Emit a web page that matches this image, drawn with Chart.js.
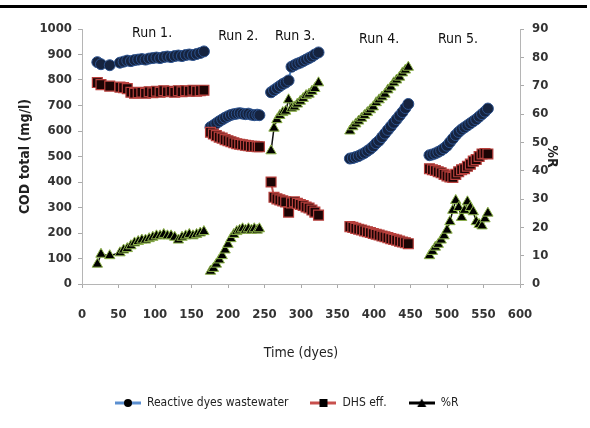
<!DOCTYPE html>
<html>
<head>
<meta charset="utf-8">
<script src="https://cdn.jsdelivr.net/npm/chart.js@4.4.1/dist/chart.umd.min.js"></script>
<style>
html,body{margin:0;padding:0;background:#fff;}
#wrap{position:relative;width:590px;height:428px;overflow:hidden;}
#c{position:absolute;left:0;top:0;}
#topline{position:absolute;left:0;top:5px;width:587px;height:3px;background:#000;}
</style>
</head>
<body>
<div id="wrap"><canvas id="c" width="590" height="428"></canvas><div id="topline"></div></div>
<script>
// ---------- DATA ----------
const seriesNames = ['Reactive dyes wastewater', 'DHS eff.', '%R'];
const runLabels = ['Run 1.', 'Run 2.', 'Run 3.', 'Run 4.', 'Run 5.'];
const runLabelDays = [96, 214, 292, 407, 515];
const runLabelCOD = [982, 970, 970, 958, 958];

const run1Days = [21, 26, 38, 52, 57, 62, 67, 72, 77, 82, 87, 92, 97, 102, 107, 112, 117, 122, 127, 132, 137, 142, 147, 152, 157, 162, 167];
const run1Reactive = [870, 862, 858, 868, 872, 876, 874, 878, 880, 882, 880, 884, 886, 888, 886, 890, 892, 890, 894, 896, 894, 898, 900, 898, 902, 906, 912];
const run1DHS = [790, 782, 776, 772, 770, 766, 752, 748, 750, 752, 748, 754, 750, 756, 752, 758, 754, 756, 752, 758, 754, 758, 756, 760, 756, 758, 760];
const run1R = [7, 10.5, 10, 11, 12, 12.5, 13.5, 14.5, 15, 15.5, 15.5, 16, 16.5, 17, 17, 17.5, 17, 17, 16.5, 15.5, 16.5, 17, 17.5, 17, 17.5, 18, 18.5];

const run2Days = [176, 180, 184, 188, 192, 196, 200, 204, 208, 212, 216, 220, 224, 228, 232, 236, 240, 243];
const run2Reactive = [615, 622, 630, 638, 645, 652, 658, 663, 666, 668, 670, 668, 666, 668, 664, 662, 664, 662];
const run2DHS = [595, 588, 582, 576, 572, 566, 562, 558, 554, 550, 548, 546, 544, 542, 540, 540, 538, 538];
const run2R = [4.5, 5.5, 7, 8.5, 10, 12, 14, 16, 17.5, 18.5, 19, 19.5, 19, 19.5, 19, 19.5, 19, 19.5];

const run3Days = [259, 263, 267, 271, 275, 279, 283, 287, 291, 295, 299, 303, 307, 311, 315, 319, 324];
const run3Reactive = [752, 760, 768, 776, 784, 790, 798, 852, 858, 864, 868, 874, 880, 886, 892, 900, 908];
const run3DHS = [400, 340, 334, 330, 326, 322, 282, 318, 322, 316, 312, 308, 302, 298, 290, 282, 270];
const run3R = [47, 55, 58, 59.5, 60.5, 61, 65, 62, 62.5, 63.5, 64.5, 65.5, 66.5, 67, 68, 69, 71];

const run4Days = [367, 371, 375, 379, 383, 387, 391, 395, 399, 403, 407, 411, 415, 419, 423, 427, 431, 435, 439, 443, 447];
const run4Reactive = [492, 494, 498, 502, 508, 514, 522, 530, 540, 552, 562, 576, 590, 604, 618, 632, 646, 660, 674, 690, 706];
const run4DHS = [225, 222, 218, 215, 212, 208, 205, 202, 198, 195, 192, 188, 185, 182, 178, 175, 172, 168, 165, 162, 158];
const run4R = [54, 55.5, 56.5, 57.5, 58.5, 59.5, 60.5, 61.5, 62.5, 64, 65, 66, 67, 68.5, 69.5, 71, 72, 73, 74.5, 75.5, 76.5];

const run5Days = [476, 480, 484, 488, 492, 496, 500, 504, 508, 512, 516, 520, 524, 528, 532, 536, 540, 544, 548, 552, 556];
const run5Reactive = [505, 508, 512, 518, 524, 532, 542, 556, 570, 584, 596, 606, 614, 622, 630, 638, 646, 656, 666, 676, 688];
const run5DHS = [452, 448, 445, 440, 436, 430, 424, 420, 418, 430, 440, 448, 452, 462, 470, 482, 488, 500, 510, 512, 510];
const run5R = [10, 11.5, 13, 14, 15.5, 17, 19, 22, 26, 29.5, 27, 23.5, 26, 29, 27, 25.5, 22, 21, 20.5, 23, 25];

const xTicks = {min: 0, max: 600, step: 50};
const codTicks = {min: 0, max: 1000, step: 100};
const rTicks = {min: 0, max: 90, step: 10};

// ---------- build point lists (null between runs = gaps) ----------
const allDays = [run1Days, run2Days, run3Days, run4Days, run5Days];
function joinRuns(valueRuns) {
  const out = [];
  valueRuns.forEach((vals, r) => {
    if (r > 0) out.push({x: allDays[r][0] - 1, y: null});
    vals.forEach((v, i) => out.push({x: allDays[r][i], y: v}));
  });
  return out;
}
const reactivePts = joinRuns([run1Reactive, run2Reactive, run3Reactive, run4Reactive, run5Reactive]);
const dhsPts = joinRuns([run1DHS, run2DHS, run3DHS, run4DHS, run5DHS]);
const rPts = joinRuns([run1R, run2R, run3R, run4R, run5R]);

const FONT = "'Liberation Sans Narrow', 'DejaVu Sans Condensed', 'Liberation Sans', sans-serif";

// legend icons (line + marker)
function makeIcon(lineColor, marker) {
  const c = document.createElement('canvas');
  c.width = 26; c.height = 12;
  const g = c.getContext('2d');
  g.strokeStyle = lineColor; g.lineWidth = 3;
  g.beginPath(); g.moveTo(0, 6); g.lineTo(26, 6); g.stroke();
  g.fillStyle = '#000';
  g.beginPath();
  if (marker === 'circle') { g.arc(13, 6, 4, 0, Math.PI * 2); }
  else if (marker === 'rect') { g.rect(9, 2, 8, 8); }
  else { g.moveTo(13, 1.5); g.lineTo(17.5, 10); g.lineTo(8.5, 10); g.closePath(); }
  g.fill();
  return c;
}
const icons = [makeIcon('#5b8fd0', 'circle'), makeIcon('#c8504d', 'rect'), makeIcon('#000', 'triangle')];

const runLabelPlugin = {
  id: 'runLabels',
  afterDatasetsDraw(chart) {
    const {ctx} = chart;
    const xs = chart.scales.x, ys = chart.scales.y;
    ctx.save();
    ctx.font = '14px ' + FONT;
    ctx.fillStyle = '#111';
    ctx.textAlign = 'center';
    ctx.textBaseline = 'middle';
    runLabels.forEach((t, i) => {
      ctx.fillText(t, xs.getPixelForValue(runLabelDays[i]), ys.getPixelForValue(runLabelCOD[i]));
    });
    ctx.restore();
  }
};
const legendPos = {
  id: 'legendPos',
  beforeDraw(chart) {
    const lg = chart.legend;
    if (!lg) return;
    lg.left = 115 - 22;
    lg.top = 403 - 22 - 6;
  }
};

const tickFont = {family: FONT, size: 13, weight: 'bold'};
const plain = v => String(v);

new Chart(document.getElementById('c'), {
  type: 'line',
  data: {
    datasets: [
      {
        label: seriesNames[0], data: reactivePts, yAxisID: 'y', order: 3,
        borderColor: '#4f81bd', borderWidth: 2, spanGaps: false,
        pointStyle: 'circle', pointRadius: 5.5, pointBackgroundColor: '#15233f',
        pointBorderColor: '#2c528e', pointBorderWidth: 1
      },
      {
        label: seriesNames[1], data: dhsPts, yAxisID: 'y', order: 2,
        borderColor: '#c0504d', borderWidth: 2, spanGaps: false,
        pointStyle: 'rect', pointRadius: 7, pointBackgroundColor: '#1c0404',
        pointBorderColor: '#b8403d', pointBorderWidth: 1.2
      },
      {
        label: seriesNames[2], data: rPts, yAxisID: 'y1', order: 1,
        borderColor: '#111', borderWidth: 1.5, spanGaps: false,
        pointStyle: 'triangle', pointRadius: 6, pointBackgroundColor: '#000000',
        pointBorderColor: '#8db34a', pointBorderWidth: 1
      }
    ]
  },
  options: {
    responsive: false,
    animation: false,
    devicePixelRatio: 1,
    layout: {padding: {top: 29, left: 0, right: 0, bottom: 0}},
    plugins: {
      tooltip: {enabled: false},
      legend: {
        position: 'bottom', align: 'start',
        labels: {
          usePointStyle: true, pointStyleWidth: 26, padding: 22,
          font: {family: FONT, size: 12}, color: '#222',
          generateLabels: () => seriesNames.map((n, i) => ({
            text: n, pointStyle: icons[i], fillStyle: '#000', strokeStyle: '#000',
            lineWidth: 0, hidden: false, datasetIndex: i, fontColor: '#222'
          }))
        }
      }
    },
    scales: {
      x: {
        type: 'linear', min: xTicks.min, max: xTicks.max,
        ticks: {stepSize: xTicks.step, font: tickFont, color: '#333', padding: 19, maxRotation: 0, callback: plain},
        grid: {drawOnChartArea: false, drawTicks: true, tickLength: 4, color: '#aaa'},
        border: {display: true, color: '#b5b5b5', dash: [2, 2]},
        title: {display: true, text: 'Time (dyes)', font: {family: FONT, size: 14}, color: '#222', padding: {top: 0, bottom: 22}},
        afterFit: s => { s.height = 428 - 284 - (s.chart.legend ? s.chart.legend.height : 45); }
      },
      y: {
        position: 'left', min: codTicks.min, max: codTicks.max,
        ticks: {stepSize: codTicks.step, font: tickFont, color: '#333', padding: 6, callback: plain},
        grid: {drawOnChartArea: false, drawTicks: true, tickLength: 4, color: '#aaa'},
        border: {display: true, color: '#b5b5b5', dash: [2, 2]},
        title: {display: true, text: 'COD total (mg/l)', font: {family: FONT, size: 14, weight: 'bold'}, color: '#222', padding: {top: 17, bottom: 0}},
        afterFit: s => { s.width = 82; }
      },
      y1: {
        position: 'right', min: rTicks.min, max: rTicks.max,
        ticks: {stepSize: rTicks.step, font: tickFont, color: '#333', padding: 8, callback: plain},
        grid: {drawOnChartArea: false, drawTicks: true, tickLength: 4, color: '#aaa'},
        border: {display: true, color: '#b5b5b5', dash: [2, 2]},
        title: {display: true, text: '%R', font: {family: FONT, size: 14, weight: 'bold'}, color: '#222', padding: {top: 30, bottom: 0}},
        afterFit: s => { s.width = 70; }
      }
    }
  },
  plugins: [runLabelPlugin, legendPos]
});
</script>
</body>
</html>
